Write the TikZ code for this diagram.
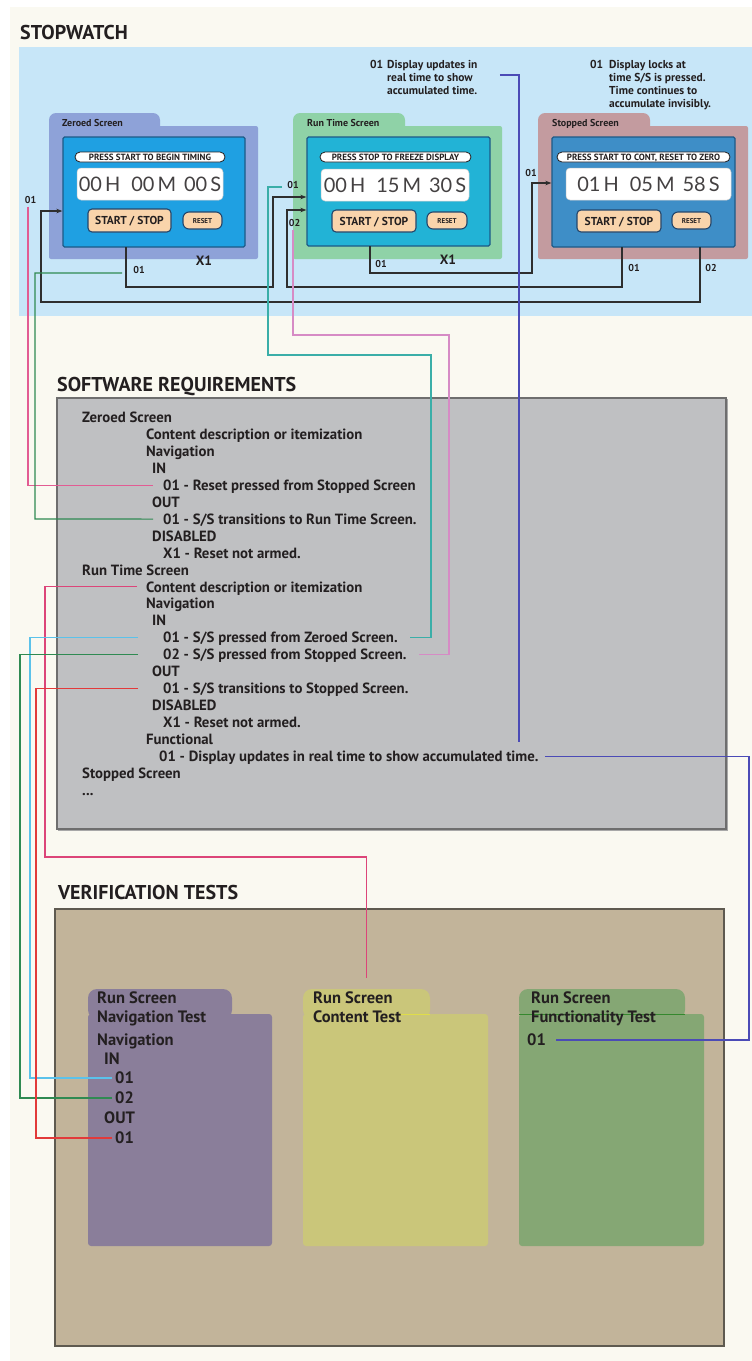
\documentclass[tikz,border=0pt]{standalone}
\usepackage{fontspec}
\setmainfont{PT Sans}
\newfontfamily\digitfont{Lato}
\usetikzlibrary{arrows.meta}
\newcommand\fsz[1]{\fontsize{#1}{#1}\selectfont}

\definecolor{paper}{HTML}{FAF9F1}
\definecolor{ink}{HTML}{231F20}
\definecolor{sky}{HTML}{C7E6F8}
\definecolor{zeroF}{HTML}{8EA2D8}
\definecolor{runF}{HTML}{8FD2A7}
\definecolor{stopF}{HTML}{C39B9F}
\definecolor{zeroS}{HTML}{1FA0E2}
\definecolor{runS}{HTML}{22B3D6}
\definecolor{stopS}{HTML}{3E8EC7}
\definecolor{scrEdge}{HTML}{1D5A87}
\definecolor{btn}{HTML}{F9D4AB}
\definecolor{btnEdge}{HTML}{24466B}
\definecolor{wirec}{HTML}{2E2E2E}
\definecolor{reqF}{HTML}{BFC0C2}
\definecolor{reqE}{HTML}{6E6E6E}
\definecolor{verF}{HTML}{C2B49A}
\definecolor{verE}{HTML}{5E5A50}
\definecolor{navF}{HTML}{8A7E9A}
\definecolor{conF}{HTML}{CAC67A}
\definecolor{funF}{HTML}{85A774}
\definecolor{cPinkc}{HTML}{E25C93}
\definecolor{cLilacc}{HTML}{D68BC5}
\definecolor{cTealc}{HTML}{3AAEA8}
\definecolor{cBluec}{HTML}{4B4BB6}
\definecolor{cHotc}{HTML}{DC4579}
\definecolor{cSkyc}{HTML}{5BC2EA}
\definecolor{cGreenc}{HTML}{2F8A52}
\definecolor{cRedc}{HTML}{E23A3A}

\begin{document}
\begin{tikzpicture}[x=1pt,y=-1pt,
  ttl/.style={anchor=west, inner sep=0pt, font=\bfseries\fsz{20}, text height=14pt, text depth=0pt, text=ink},
  req/.style={anchor=west, inner sep=0pt, font=\bfseries\fsz{14.8}, text height=10.4pt, text depth=0pt, text=ink},
  vt/.style={anchor=west, inner sep=0pt, font=\bfseries\fsz{16.5}, text height=11.5pt, text depth=0pt, text=ink},
  tagl/.style={inner sep=0pt, font=\bfseries\fsz{10}, text height=7pt, text depth=0pt, text=ink},
  tagx/.style={inner sep=0pt, font=\bfseries\fsz{13.5}, text height=9.5pt, text depth=0pt, text=ink},
  note/.style={anchor=west, inner sep=0pt, font=\bfseries\fsz{11.5}, text height=8pt, text depth=0pt, text=ink},
  tabl/.style={anchor=west, inner sep=0pt, font=\bfseries\fsz{10}, text height=7pt, text depth=0pt, text=ink},
  screen/.style={draw=scrEdge, line width=1.3pt, rounded corners=1.5pt, inner sep=0pt},
  pill/.style={draw=ink, line width=0.8pt, fill=white, rounded corners=5pt, inner sep=0pt, minimum height=10pt, font=\bfseries\fsz{9}, text height=6.3pt, text depth=0pt, text=ink},
  lcd/.style={fill=white, draw=white!80!black, line width=0.5pt, rounded corners=4pt, inner sep=0pt, minimum height=32pt, font=\digitfont\fsz{20}, text height=14.4pt, text depth=0pt, text=ink!85},
  ssbtn/.style={fill=btn, draw=btnEdge, line width=1.1pt, rounded corners=4pt, inner sep=0pt, minimum width=84pt, minimum height=22pt, font=\bfseries\fsz{11.5}, text height=8pt, text depth=0pt, text=ink},
  rstbtn/.style={fill=btn, draw=btnEdge, line width=1.1pt, rounded corners=6pt, inner sep=0pt, minimum width=39pt, minimum height=17pt, font=\bfseries\fsz{7}, text height=5pt, text depth=0pt, text=ink},
  vtab/.style={inner sep=0pt, rounded corners=9pt},
  wire/.style={draw=wirec, line width=1.3pt},
  arr/.style={-{Stealth[length=6pt,width=4.5pt]}},
  link/.style={line width=1.2pt},
]
\useasboundingbox (0,0) rectangle (752,1361);
\fill[white] (0,0) rectangle (752,1361);
\fill[paper] (10,7) rectangle (752,1361);

% ---------------- stopwatch ----------------
\node[ttl] (tSW) at (20,32) {STOPWATCH};
\fill[sky] (19,47) rectangle (752,316);

% folders
\fill[zeroF, rounded corners=7pt] (49,113) rectangle (160,138);
\fill[zeroF, rounded corners=2pt] (49,126) rectangle (258,259);
\fill[runF, rounded corners=7pt] (293,113) rectangle (405,138);
\fill[runF, rounded corners=2pt] (293,126) rectangle (502,259);
\fill[stopF, rounded corners=7pt] (538,113) rectangle (650,138);
\fill[stopF, rounded corners=2pt] (538,126) rectangle (748,259);
\node[tabl] (zTab) at (62,123) {Zeroed Screen};
\node[tabl] (rTab) at (307,123) {Run Time Screen};
\node[tabl] (sTab) at (552,123) {Stopped Screen};

% zeroed screen
\node[screen, fill=zeroS, minimum width=182pt, minimum height=110pt] (zScr) at (154,192) {};
\node[pill, minimum width=150pt] (zMsg) at (150,157) {PRESS START TO BEGIN TIMING};
\node[lcd, minimum width=146pt] (zLcd) at (150,184) {00\kern3pt H\kern11pt 00\kern3pt M\kern8pt 00\kern3pt S};
\node[ssbtn, minimum width=83pt, minimum height=23pt] (zSS) at (129.5,220.5) {START / STOP};
\node[rstbtn] (zRst) at (202.5,220.5) {RESET};

% run time screen
\node[screen, fill=runS, minimum width=183pt, minimum height=109pt] (rScr) at (398.5,191.5) {};
\node[pill, minimum width=151pt] (rMsg) at (395.5,157) {PRESS STOP TO FREEZE DISPLAY};
\node[lcd, minimum width=148pt] (rLcd) at (395,185) {00\kern3pt H\kern11pt 15\kern3pt M\kern8pt 30\kern3pt S};
\node[ssbtn] (rSS) at (374,221) {START / STOP};
\node[rstbtn, minimum width=40pt] (rRst) at (447,220.5) {RESET};

% stopped screen
\node[screen, fill=stopS, minimum width=183pt, minimum height=110pt] (sScr) at (643.5,192) {};
\node[pill, minimum width=173pt] (sMsg) at (643.5,157) {PRESS START TO CONT, RESET TO ZERO};
\node[lcd, minimum width=165pt] (sLcd) at (648.5,184) {01\kern3pt H\kern11pt 05\kern3pt M\kern8pt 58\kern3pt S};
\node[ssbtn] (sSS) at (619,221) {START / STOP};
\node[rstbtn] (sRst) at (691.5,220.5) {RESET};

% transition labels
\node[tagl] (zIn) at (30.5,200) {01};
\node[tagl] (zOutL) at (139,270) {01};
\node[tagx] (zX) at (204,261) {X1};
\node[tagl] (rIn1) at (293,185) {01};
\node[tagl] (rIn2) at (294.5,223) {02};
\node[tagl] (rOutL) at (381,264) {01};
\node[tagx] (rX) at (448,260) {X1};
\node[tagl] (sIn) at (531,173) {01};
\node[tagl] (sOut1L) at (634,268) {01};
\node[tagl] (sOut2L) at (711,268) {02};

% button ports
\coordinate (zOut) at (126,247);
\coordinate (rOut) at (370,246);
\coordinate (sOut1) at (622,247);
\coordinate (sOut2) at (700,247);

% transitions
\draw[wire,arr] (zOut) |- (273,287) |- ([yshift=-5.5pt]rScr.west);
\draw[wire,arr] (rOut) |- (532,273) |- ([yshift=9pt]sScr.west);
\draw[wire,arr] (sOut1) |- (287,287) |- ([yshift=-18.5pt]rScr.west);
\draw[wire,arr] (sOut2) |- (41,302) |- ([yshift=-19pt]zScr.west);

% notes
\node[note] (n1a) at (370,64) {01};
\node[note] (n1b) at (387,64) {Display updates in};
\node[note] (n1c) at (387,77) {real time to show};
\node[note] (n1d) at (387,90) {accumulated time.};
\node[note] (n2a) at (590,64) {01};
\node[note] (n2b) at (609,64) {Display locks at};
\node[note] (n2c) at (609,77) {time S/S is pressed.};
\node[note] (n2d) at (609,90) {Time continues to};
\node[note] (n2e) at (609,103) {accumulate invisibly.};

% ---------------- software requirements ----------------
\node[ttl] (tSR) at (57,384) {SOFTWARE REQUIREMENTS};
\draw[reqE, fill=reqF, line width=1.3pt] (57,398) rectangle (726,829);
\draw[reqE!60, line width=0.8pt] (727.5,399) -- (727.5,830.5) -- (58,830.5);

\node[req] (rZ)      at (82,417.5)  {Zeroed Screen};
\node[req] (rZc)     at (146,434.4) {Content description or itemization};
\node[req] (rZn)     at (146,451.4) {Navigation};
\node[req] (rZi)     at (152,468.3) {IN};
\node[req] (rZin01)  at (163,485.2) {01 - Reset pressed from Stopped Screen};
\node[req] (rZo)     at (152,502.2) {OUT};
\node[req] (rZout01) at (163,519.1) {01 - S/S transitions to Run Time Screen.};
\node[req] (rZd)     at (152,536)   {DISABLED};
\node[req] (rZx)     at (163,553)   {X1 - Reset not armed.};
\node[req] (rR)      at (82,569.9)  {Run Time Screen};
\node[req] (rRc)     at (146,586.8) {Content description or itemization};
\node[req] (rRn)     at (146,603.7) {Navigation};
\node[req] (rRi)     at (152,620.7) {IN};
\node[req] (rRin01)  at (163,637.6) {01 - S/S pressed from Zeroed Screen.};
\node[req] (rRin02)  at (163,654.5) {02 - S/S pressed from Stopped Screen.};
\node[req] (rRo)     at (152,671.5) {OUT};
\node[req] (rRout01) at (163,688.4) {01 - S/S transitions to Stopped Screen.};
\node[req] (rRd)     at (152,705.3) {DISABLED};
\node[req] (rRx)     at (163,722.2) {X1 - Reset not armed.};
\node[req] (rRf)     at (146,739.2) {Functional};
\node[req] (rRf01)   at (159,756.1) {01 - Display updates in real time to show accumulated time.};
\node[req] (rS)      at (82,773)    {Stopped Screen};
\node[req] (rSd)     at (82,790)    {...};
\coordinate (fnTop) at (519,742);

% ---------------- verification tests ----------------
\node[ttl] (tVT) at (58,892) {VERIFICATION TESTS};
\draw[verE, fill=verF, line width=1.3pt] (55,909) rectangle (724,1346);

\node[vtab, fill=navF, minimum width=144pt, minimum height=30pt] (vN) at (160,1004) {};
\fill[navF, rounded corners=3pt] (88,1014) rectangle (272,1246);
\node[vtab, fill=conF, minimum width=127pt, minimum height=30pt] (vC) at (366.5,1004) {};
\fill[conF, rounded corners=3pt] (303,1014) rectangle (488,1246);
\draw[conF!60!yellow, line width=1pt] (400,1014) -- (430,1014);
\node[vtab, fill=funF, minimum width=166pt, minimum height=30pt] (vF) at (602,1004) {};
\fill[funF, rounded corners=3pt] (519,1014) rectangle (704,1246);
\draw[green!45!black!60!funF, line width=1pt] (519,1014) -- (685,1014);

\node[vt] (vNa) at (97,998)  {Run Screen};
\node[vt] (vNb) at (97,1017) {Navigation Test};
\node[vt] (vNc) at (97,1040) {Navigation};
\node[vt] (vNi) at (104,1059) {IN};
\node[vt] (vNin01) at (115,1078) {01};
\node[vt] (vNin02) at (115,1098) {02};
\node[vt] (vNo) at (104,1118) {OUT};
\node[vt] (vNout01) at (115,1138) {01};
\node[vt] (vCa) at (313,998)  {Run Screen};
\node[vt] (vCb) at (313,1017) {Content Test};
\node[vt] (vFa) at (531,998)  {Run Screen};
\node[vt] (vFb) at (531,1017) {Functionality Test};
\node[vt] (vF01) at (527,1040) {01};

% ---------------- traceability links ----------------
\draw[link,cPinkc] ([xshift=-2.5pt,yshift=-3pt]zIn.south) |- ([xshift=-10pt]rZin01.west);
\draw[link,cGreenc] ([xshift=-11pt,yshift=-3pt]zOutL.west) -| (35,519) -- ([xshift=-10pt]rZout01.west);
\draw[link,cTealc] ([xshift=-5pt,yshift=-2pt]rIn1.west) -| (268,355) -- (431,355) |- ([xshift=12pt]rRin01.east);
\draw[link,cLilacc] ([xshift=-1.5pt,yshift=-3pt]rIn2.south) |- (449,335) |- ([xshift=12pt]rRin02.east);
\draw[link,cBluec] ([xshift=27pt,yshift=2pt]n1c.east) -| (fnTop);
\draw[link,cBluec] ([xshift=6pt]rRf01.east) -| (749,900) |- ([xshift=10pt]vF01.east);
\draw[link,cHotc] ([xshift=-9pt]rRc.west) -| (45,857) -| ([yshift=11pt]vC.north);
\draw[link,cSkyc] ([xshift=-25pt]rRin01.west) -| (30,900) |- ([xshift=-3pt]vNin01.west);
\draw[link,cGreenc] ([xshift=-25pt]rRin02.west) -| (20,900) |- ([xshift=-3pt]vNin02.west);
\draw[link,cRedc] ([xshift=-25pt]rRout01.west) -| (36,900) |- ([xshift=-3pt]vNout01.west);
\end{tikzpicture}
\end{document}
